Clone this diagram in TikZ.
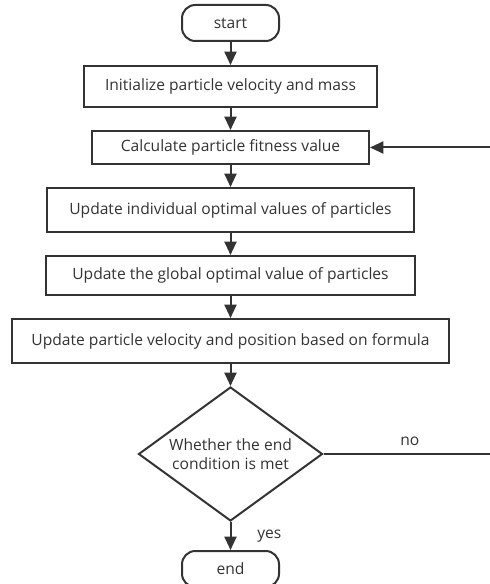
\documentclass[tikz,border=0pt]{standalone}
\usepackage{fontspec}
\setmainfont{Open Sans}
\usetikzlibrary{arrows.meta, shapes.geometric}
\definecolor{linegray}{HTML}{333333}

\begin{document}
\begin{tikzpicture}[x=0.75pt, y=-0.75pt, >={Triangle[length=10pt, width=9pt]}, line width=1.5pt, draw=linegray, text=linegray, font=\fontsize{11.7}{14.5}\selectfont,
    stepbox/.style={draw, rectangle, inner sep=0pt},
    termbox/.style={draw, rectangle, rounded corners=10pt, minimum width=72.75pt, minimum height=27pt, inner sep=0pt},
    choice/.style={draw, diamond, aspect=1.37, inner sep=0pt, minimum width=138pt, minimum height=100.5pt, align=center}]
    \useasboundingbox (0, 0) rectangle (489, 584);

    \node[termbox] (start) at (230.5, 23) {start};
    \node[stepbox, minimum width=219.75pt, minimum height=30.75pt] (init) at (230.5, 86.5) {Initialize particle velocity and mass};
    \node[stepbox, minimum width=207.75pt, minimum height=24.75pt] (calc) at (230.5, 147.5) {Calculate particle fitness value};
    \node[stepbox, minimum width=275.25pt, minimum height=33pt] (pbest) at (230.5, 210) {Update individual optimal values of particles};
    \node[stepbox, minimum width=276.75pt, minimum height=29.25pt] (gbest) at (230.5, 275.5) {Update the global optimal value of particles};
    \node[stepbox, minimum width=327.75pt, minimum height=33pt] (move) at (230.5, 341) {Update particle velocity and position based on formula};
    \node[choice] (check) at (230.5, 454) {Whether the end\\condition is met};
    \node[termbox] (end) at (230.5, 569) {end};

    \coordinate (back) at (496, 454);

    % init
    \draw[->] (start) -- (init);
    % fitness
    \draw[->] (init) -- (calc);
    % pbest
    \draw[->] (calc) -- (pbest);
    % gbest
    \draw[->] (pbest) -- (gbest);
    % move
    \draw[->] (gbest) -- (move);
    % check
    \draw[->] (move) -- (check);
    % yes
    \draw[->] (check) -- node[right, xshift=16pt] {yes} (end);
    % no
    \draw[->] (check.east) -- node[above, yshift=2pt] {no} (back) |- (calc.east);
\end{tikzpicture}
\end{document}
